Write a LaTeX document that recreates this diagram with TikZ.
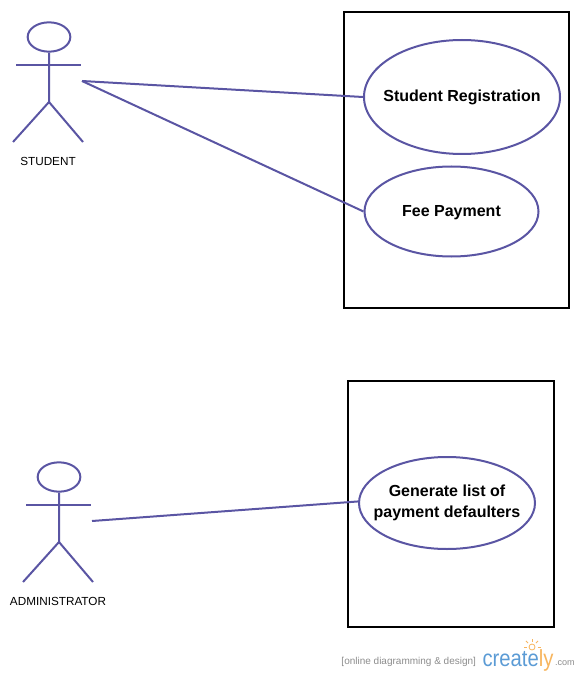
\documentclass[tikz,border=0pt]{standalone}
\usepackage{fontspec}
\usetikzlibrary{shapes.geometric}
\setmainfont{Liberation Sans}
\definecolor{actorline}{HTML}{5A55A3}
\definecolor{logoblue}{HTML}{5B9BD5}
\definecolor{logoorange}{HTML}{F7B55E}
\definecolor{logogrey}{HTML}{8C8C8C}
\begin{document}
\begin{tikzpicture}[x=0.75pt,y=-0.75pt,
		line width=1.5pt,
		use case/.style={ellipse,draw=actorline,inner sep=-14pt,align=center,font=\fontsize{12}{16}\selectfont\bfseries},
		head/.style={ellipse,draw=actorline,inner sep=0pt,minimum width=32pt,minimum height=22pt},
		limb/.style={draw=actorline},
		link/.style={draw=actorline},
		system/.style={rectangle,draw=black,line width=1.4pt,inner sep=0pt},
		actor name/.style={font=\fontsize{8.8}{11}\selectfont}]
		\useasboundingbox (0,0) rectangle (580,677);
		
		% system boundaries
		\node[system,minimum width=168.75pt,minimum height=222pt] (box1) at (456.5,160) {};
		\node[system,minimum width=154.5pt,minimum height=184.5pt] (box2) at (451,504) {};
		
		% use cases
		\node[use case,text height=10pt,minimum width=147pt,minimum height=85.5pt] (reg) at (462,97) {Student Registration};
		\node[use case,text height=10pt,minimum width=130.5pt,minimum height=67.5pt] (fee) at (451.5,211.5) {Fee Payment};
		\node[use case,minimum width=132pt,minimum height=69pt] (gen) at (447,503) {Generate list of\\payment defaulters};
		
		% student
		\node[head] (head1) at (49,37) {};
		\coordinate (hip1) at (49,102);
		\coordinate (arml1) at (16,65);
		\coordinate (armr1) at (81,65);
		\coordinate (footl1) at (13,142);
		\coordinate (footr1) at (83,142);
		\coordinate (hand1) at (82,81);
		\draw[limb] (head1.south) -- (hip1) -- (footl1);
		\draw[limb] (hip1) -- (footr1);
		\draw[limb] (arml1) -- (armr1);
		\node[actor name] (name1) at (48,161) {STUDENT};
		
		% administrator
		\node[head] (head2) at (59,477) {};
		\coordinate (hip2) at (59,542);
		\coordinate (arml2) at (26,505);
		\coordinate (armr2) at (91,505);
		\coordinate (footl2) at (23,582);
		\coordinate (footr2) at (93,582);
		\coordinate (hand2) at (92,521);
		\draw[limb] (head2.south) -- (hip2) -- (footl2);
		\draw[limb] (hip2) -- (footr2);
		\draw[limb] (arml2) -- (armr2);
		\node[actor name] (name2) at (58,601) {ADMINISTRATOR};
		
		% connectors
		\path[link]
		(hand1) edge (reg.west)
		(hand1) edge (fee.west)
		(hand2) edge (gen.179);
		
		% creately logo
		\node[anchor=east,text=logogrey,inner sep=0pt,font=\fontsize{7.5}{9}\selectfont] (tag) at (477,662) {[online diagramming \& design]};
		\node[anchor=west,text=logoblue,inner sep=0pt,font=\fontsize{15.2}{18}\selectfont] (logo) at (481.5,660.5) {\scalebox{1}[1.15]{create\textcolor{logoorange}{ly}}};
		\node[anchor=west,text=logogrey,inner sep=0pt,font=\fontsize{6.8}{9}\selectfont] (com) at (554,663) {.com};
		\draw[logoorange,line width=0.6pt] (532,647) circle (3);
		\foreach \a in {0,45,...,180}
		\draw[logoorange,line width=0.6pt] (532,647) ++(-\a:5.5) -- ++(-\a:3);
		\end{tikzpicture}
\end{document}
